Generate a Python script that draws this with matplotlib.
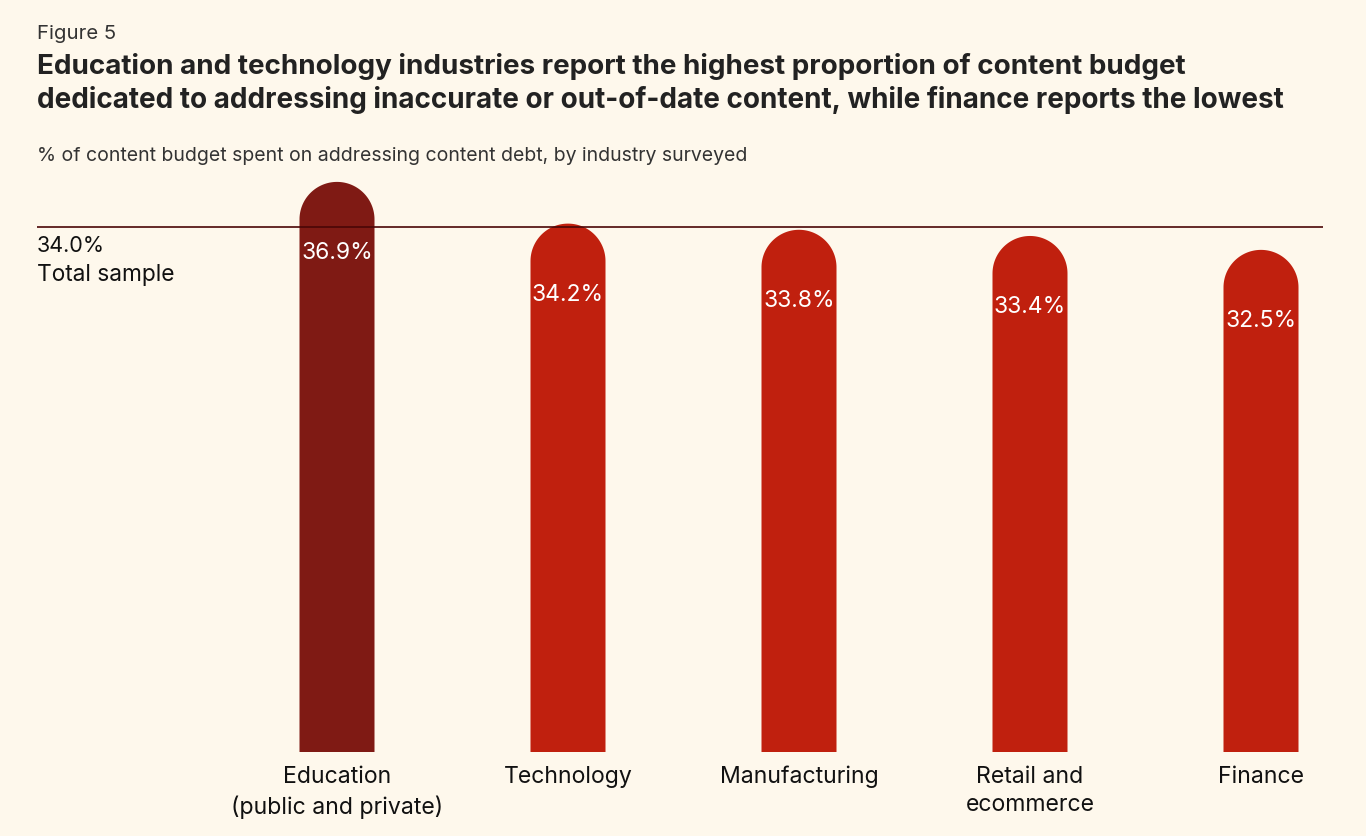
import numpy as np
import matplotlib
matplotlib.use("Agg")
import matplotlib.pyplot as plt

categories = ["Education\n(public and private)", "Technology", "Manufacturing", "Retail and\necommerce", "Finance"]
values = [36.9, 34.2, 33.8, 33.4, 32.5]
value_labels = ["36.9%", "34.2%", "33.8%", "33.4%", "32.5%"]
total_sample = 34.0

W, H = 1366, 836
BG = "#fef8ec"
DARK = "#7f1a14"
RED = "#c0200e"
LINE = "#4a0606"

plt.rcParams['font.family'] = ['Inter', 'DejaVu Sans']

fig = plt.figure(figsize=(W/100, H/100), dpi=100, facecolor=BG)
renderer = fig.canvas.get_renderer()

left_px, right_px = 37, 1323
bottom_px = 752
px_per_unit = 15.45
ymax = 37.0
top_px = bottom_px - ymax * px_per_unit
ax = fig.add_axes([left_px/W, 1 - bottom_px/H, (right_px-left_px)/W, (bottom_px-top_px)/H])
ax.set_facecolor(BG)

spacing = 231.0
c0 = 337.0
xmin = -(c0 - left_px)/spacing
xmax = 4 + (right_px - (c0 + 4*spacing))/spacing
ax.set_xlim(xmin, xmax)
ax.set_ylim(0, ymax)

bw = 75/spacing
r_y = 37.5/px_per_unit
xs = list(range(len(values)))
colors = [DARK] + [RED]*(len(values)-1)
t = np.linspace(0, np.pi, 90)
for x, v, c in zip(xs, values, colors):
    cx = x + (bw/2)*np.cos(t)
    cy = (v - r_y) + r_y*np.sin(t)
    px = np.concatenate([[x + bw/2], cx, [x - bw/2]])
    py = np.concatenate([[0], cy, [0]])
    ax.fill(px, py, color=c, linewidth=0, zorder=2)

for x, v, lab in zip(xs, values, value_labels):
    ax.annotate(lab, (x, v), xytext=(0, -51.5), textcoords='offset points',
                ha='center', va='center', color='white', fontsize=16.5, zorder=4)

ax.axhline(total_sample, color=LINE, lw=1.2, zorder=3)

for s in ax.spines.values():
    s.set_visible(False)
ax.set_xticks(xs)
ax.set_xticklabels(categories, fontsize=16.6, color='#111111', linespacing=1.4)
ax.tick_params(axis='x', length=0, pad=9.8)
ax.set_yticks([])

def ft(x, y, s, target_w=None, size=14, **kw):
    tx = fig.text(x/W, 1 - y/H, s, fontsize=size, va='center', **kw)
    if target_w:
        bb = tx.get_window_extent(renderer)
        tx.set_fontsize(size * target_w / bb.width)
    return tx

ft(37, 34, "Figure 5", 79, color='#333333')
ft(37, 66, "Education and technology industries report the highest proportion of content budget",
   1148, fontweight='bold', color='#222222')
ft(37, 100, "dedicated to addressing inaccurate or out-of-date content, while finance reports the lowest",
   1248, fontweight='bold', color='#222222')
ft(37, 156, "% of content budget spent on addressing content debt, by industry surveyed",
   711, color='#333333')
ft(37, 246, "34.0%", 68, color='#111111')
ft(37, 275, "Total sample", 138, color='#111111')

fig.savefig("out.png", dpi=100, facecolor=BG)
